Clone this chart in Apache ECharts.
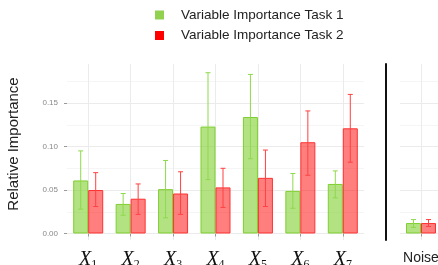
<!DOCTYPE html>
<html>
<head>
<meta charset="UTF-8">
<script src="https://cdn.jsdelivr.net/npm/echarts@6/dist/echarts.min.js"></script>
<style>
  html, body { margin: 0; padding: 0; background: #fff; }
  #chart { width: 438px; height: 265px; }
</style>
</head>
<body>
<div id="chart"></div>
<script>
  // variables and their importance (mean, lower, upper)
  var cats = ['X1', 'X2', 'X3', 'X4', 'X5', 'X6', 'X7'];
  var imp1 = [0.061, 0.034, 0.051, 0.123, 0.134, 0.049, 0.057];
  var lo1  = [0.028, 0.021, 0.018, 0.062, 0.086, 0.029, 0.041];
  var hi1  = [0.095, 0.046, 0.084, 0.185, 0.183, 0.069, 0.072];
  var imp2 = [0.050, 0.040, 0.046, 0.053, 0.064, 0.105, 0.121];
  var lo2  = [0.031, 0.022, 0.022, 0.030, 0.031, 0.067, 0.082];
  var hi2  = [0.070, 0.057, 0.071, 0.075, 0.096, 0.141, 0.160];
  var noiseCat = ['Noise'];
  var noise1 = [0.012], noiseLo1 = [0.007], noiseHi1 = [0.016];
  var noise2 = [0.012], noiseLo2 = [0.008], noiseHi2 = [0.016];

  var name1 = 'Variable Importance Task 1';
  var name2 = 'Variable Importance Task 2';
  var BW = 15;

  function errSeries(name, xi, lo, hi, side, color) {
    var d = [];
    for (var i = 0; i < lo.length; i++) d.push([i, lo[i], hi[i]]);
    return {
      type: 'custom', name: name, xAxisIndex: xi, yAxisIndex: xi, z: 5,
      data: d,
      renderItem: function (params, api) {
        var a = api.coord([api.value(0), api.value(1)]);
        var b = api.coord([api.value(0), api.value(2)]);
        var x = a[0] + side * BW / 2;
        var st = { stroke: color, lineWidth: 1 };
        return { type: 'group', children: [
          { type: 'line', shape: { x1: x, y1: a[1], x2: x, y2: b[1] }, style: st },
          { type: 'line', shape: { x1: x - 2.5, y1: a[1], x2: x + 2.5, y2: a[1] }, style: st },
          { type: 'line', shape: { x1: x - 2.5, y1: b[1], x2: x + 2.5, y2: b[1] }, style: st }
        ]};
      }
    };
  }

  var yBase = {
    type: 'value', min: -0.0075, max: 0.195, splitNumber: 4,
    axisLine: { show: false },
    axisTick: { show: true, length: 3, lineStyle: { color: '#999' } },
    splitLine: { show: true, showMinLine: false, showMaxLine: false, lineStyle: { color: '#ebebeb', width: 1 } },
    minorTick: { show: false, splitNumber: 2 },
    minorSplitLine: { show: true, lineStyle: { color: '#f5f5f5', width: 1 } }
  };

  var green = 'rgba(127,207,47,0.6)', greenLine = '#7fcf2f', greenErr = '#8fd94c';
  var red = 'rgba(255,0,0,0.5)', redLine = '#ff3030', redErr = '#ff4040';

  var chart = echarts.init(document.getElementById('chart'));
  chart.setOption({
    animation: false,
    legend: {
      orient: 'vertical', left: 150, top: 2, itemWidth: 9, itemHeight: 9, itemGap: 4.5,
      textStyle: { fontFamily: 'Liberation Sans', fontSize: 13.5, color: '#222', lineHeight: 16, padding: [0, 0, 0, 12] },
      data: [
        { name: name1, icon: 'rect', itemStyle: { color: '#92d050', borderWidth: 0 } },
        { name: name2, icon: 'rect', itemStyle: { color: '#ff0000', borderWidth: 0 } }
      ]
    },
    grid: [
      { left: 67, right: 74, top: 64, bottom: 25, outerBoundsMode: 'none' },
      { left: 400, width: 42, top: 64, bottom: 25, outerBoundsMode: 'none' }
    ],
    xAxis: [
      {
        type: 'category', gridIndex: 0, data: cats,
        axisLine: { show: false },
        axisTick: { show: true, alignWithLabel: true, length: 3, lineStyle: { color: '#999' } },
        splitLine: { show: true, alignWithLabel: true, interval: 0, lineStyle: { color: '#ebebeb' } },
        axisLabel: {
          interval: 0, margin: 9,
          formatter: function (v) { return '{x|' + v.charAt(0) + '}{s|' + v.slice(1) + '}'; },
          rich: {
            x: { fontFamily: 'Liberation Serif', fontStyle: 'italic', fontSize: 20, color: '#111' },
            s: { fontFamily: 'Liberation Serif', fontSize: 12, color: '#111', padding: [10, 0, 0, 0] }
          }
        }
      },
      {
        type: 'category', gridIndex: 1, data: noiseCat,
        axisLine: { show: false },
        axisTick: { show: true, alignWithLabel: true, length: 3, lineStyle: { color: '#999' } },
        splitLine: { show: true, alignWithLabel: true, interval: 0, lineStyle: { color: '#ebebeb' } },
        axisLabel: { margin: 11, fontFamily: 'Liberation Sans', fontSize: 14, color: '#222' }
      }
    ],
    yAxis: [
      Object.assign({}, yBase, {
        gridIndex: 0,
        name: 'Relative Importance', nameLocation: 'middle', nameGap: 46, nameRotate: 90,
        nameTextStyle: { fontFamily: 'Liberation Sans', fontSize: 15, color: '#222', padding: [0, 0, 0, 16] },
        axisLabel: {
          margin: 9, fontFamily: 'Liberation Sans', fontSize: 8, color: '#888',
          showMinLabel: false, showMaxLabel: false,
          formatter: function (v) { return v.toFixed(2); }
        }
      }),
      Object.assign({}, yBase, {
        gridIndex: 1,
        axisLine: { show: true, onZero: false, lineStyle: { color: '#111', width: 2 } },
        offset: 14,
        axisTick: { show: false },
        axisLabel: { show: false }
      })
    ],
    series: [
      { type: 'bar', name: name1, xAxisIndex: 0, yAxisIndex: 0, data: imp1, barWidth: BW, barGap: '0%',
        itemStyle: { color: green, borderColor: greenLine, borderWidth: 1 } },
      { type: 'bar', name: name2, xAxisIndex: 0, yAxisIndex: 0, data: imp2, barWidth: BW, barGap: '0%',
        itemStyle: { color: red, borderColor: redLine, borderWidth: 1 } },
      { type: 'bar', name: name1, xAxisIndex: 1, yAxisIndex: 1, data: noise1, barWidth: BW, barGap: '0%',
        itemStyle: { color: green, borderColor: greenLine, borderWidth: 1 } },
      { type: 'bar', name: name2, xAxisIndex: 1, yAxisIndex: 1, data: noise2, barWidth: BW, barGap: '0%',
        itemStyle: { color: red, borderColor: redLine, borderWidth: 1 } },
      errSeries(name1, 0, lo1, hi1, -1, greenErr),
      errSeries(name2, 0, lo2, hi2, 1, redErr),
      errSeries(name1, 1, noiseLo1, noiseHi1, -1, greenErr),
      errSeries(name2, 1, noiseLo2, noiseHi2, 1, redErr)
    ]
  });
</script>
</body>
</html>
